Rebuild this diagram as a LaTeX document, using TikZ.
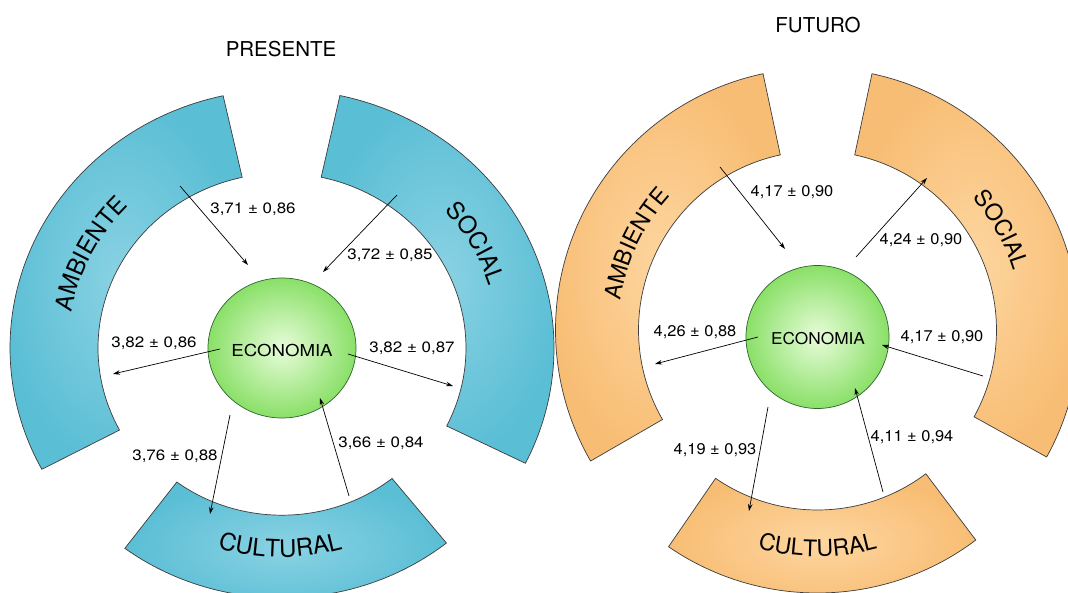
\documentclass[tikz,border=0pt]{standalone}
\usepackage{fontspec}
\setmainfont{TeX Gyre Heros}
\newfontfamily\HelvL[FakeStretch=1.13]{TeX Gyre Heros}
\newfontfamily\HelvR[FakeStretch=1.06]{TeX Gyre Heros}
\usetikzlibrary{arrows.meta,decorations.text,shapes.geometric,calc}
\definecolor{bluedark}{RGB}{90,190,213}
\definecolor{bluelight}{RGB}{138,210,227}
\definecolor{orgdark}{RGB}{248,189,116}
\definecolor{orglight}{RGB}{253,214,160}
\definecolor{grnout}{RGB}{138,224,104}
\definecolor{grnin}{RGB}{232,252,218}
\definecolor{edgegray}{RGB}{60,60,60}
\newcommand\bandL{\fontsize{24}{24}\selectfont}
\newcommand\bandR{\fontsize{23}{23}\selectfont}
\tikzset{
  band/.style={draw=edgegray, line width=0.7pt},
  blueband/.style={band, shading=radial, inner color=bluelight, outer color=bluedark},
  orgband/.style={band, shading=radial, inner color=orglight, outer color=orgdark},
  econ/.style={draw=edgegray!80!green, line width=0.7pt, shading=radial, inner color=grnin, outer color=grnout, inner sep=0},
  flow/.style={draw=black, line width=0.7pt, -{Stealth[length=7pt,width=4.5pt]}},
  valL/.style={font=\HelvL\fontsize{15}{18}\selectfont, inner sep=0},
  valR/.style={font=\HelvR\fontsize{15.5}{18}\selectfont, inner sep=0},
  title/.style={font=\fontsize{20.5}{24}\selectfont, inner sep=0},
  ringtext/.style={decorate, decoration={text along path, text align=center, text={#1}}},
}
\begin{document}
\begin{tikzpicture}[x=1pt,y=1pt]
\useasboundingbox (0,0) rectangle (1068,592);
\fill[white] (0,0) rectangle (1068,592);
\clip (0,0) rectangle (1068,592);

% ===================== PRESENTE =====================
\coordinate (L) at (282,244);
\path[blueband] ($(L)+(102.5:272 and 258.4)$) arc[start angle=102.5,end angle=208,x radius=272,y radius=258.4]
  -- ($(L)+(208:184 and 174.8)$) arc[start angle=208,end angle=102.5,x radius=184,y radius=174.8] -- cycle;
\path[blueband] ($(L)+(77.7:272 and 258.4)$) arc[start angle=77.7,end angle=-26.5,x radius=272,y radius=258.4]
  -- ($(L)+(-26.5:184 and 174.8)$) arc[start angle=-26.5,end angle=77.7,x radius=184,y radius=174.8] -- cycle;
\path[blueband] ($(L)+(-126.7:263 and 249.9)$) arc[start angle=-126.7,end angle=-51.3,x radius=263,y radius=249.9]
  -- ($(L)+(-51.3:176 and 167.2)$) arc[start angle=-51.3,end angle=-126.7,x radius=176,y radius=167.2] -- cycle;

\path[ringtext={|\bandL|AMBIENTE}] ($(L)+(198.3:214 and 203.3)$) arc[start angle=198.3,end angle=108.3,x radius=214,y radius=203.3];
\path[ringtext={|\bandL|SOCIAL}] ($(L)+(74:217.5 and 206.6)$) arc[start angle=74,end angle=-16,x radius=217.5,y radius=206.6];
\path[ringtext={|\bandL|CULTURAL}] ($(L)+(-130.5:220 and 209)$) arc[start angle=-130.5,end angle=-50.5,x radius=220,y radius=209];

\node[econ, ellipse, minimum width=148pt, minimum height=140pt] (ecoL) at (282,244) {};
\node[font=\HelvL\fontsize{16.5}{20}\selectfont, inner sep=0] (ecoLt) at (282,242) {ECONOMIA};
\node[title] (presente) at (281,543) {PRESENTE};

\coordinate (a1s) at (180,406); \coordinate (a1e) at (248,327);
\coordinate (a2s) at (397,397); \coordinate (a2e) at (323,320);
\coordinate (a3s) at (220,243); \coordinate (a3e) at (113,218);
\coordinate (a4s) at (348,238); \coordinate (a4e) at (453,206);
\coordinate (a5s) at (230,177); \coordinate (a5e) at (210,78);
\coordinate (a6s) at (349,96);  \coordinate (a6e) at (320,194);
\draw[flow] (a1s) -- (a1e);
\draw[flow] (a2s) -- (a2e);
\draw[flow] (a3s) -- (a3e);
\draw[flow] (a4s) -- (a4e);
\draw[flow] (a5s) -- (a5e);
\draw[flow] (a6s) -- (a6e);
\node[valL] (v1) at (253,383) {3,71 ± 0,86};
\node[valL] (v2) at (390,337) {3,72 ± 0,85};
\node[valL] (v3) at (154,249) {3,82 ± 0,86};
\node[valL] (v4) at (412,244) {3,82 ± 0,87};
\node[valL] (v5) at (175,136) {3,76 ± 0,88};
\node[valL] (v6) at (381,149) {3,66 ± 0,84};

% ===================== FUTURO =====================
\coordinate (R) at (817.5,262);
\path[orgband] ($(R)+(102:262 and 262)$) arc[start angle=102,end angle=210,radius=262]
  -- ($(R)+(210:179 and 179)$) arc[start angle=210,end angle=102,radius=179] -- cycle;
\path[orgband] ($(R)+(78:262 and 262)$) arc[start angle=78,end angle=-29,radius=262]
  -- ($(R)+(-29:179 and 179)$) arc[start angle=-29,end angle=78,radius=179] -- cycle;
\path[orgband] ($(R)+(-124.5:263 and 263)$) arc[start angle=-124.5,end angle=-53,radius=263]
  -- ($(R)+(-53:180 and 180)$) arc[start angle=-53,end angle=-124.5,radius=180] -- cycle;

\path[ringtext={|\bandR|AMBIENTE}] ($(R)+(199.6:199 and 199)$) arc[start angle=199.6,end angle=109.6,radius=199];
\path[ringtext={|\bandR|SOCIAL}] ($(R)+(73.7:204.3 and 204.3)$) arc[start angle=73.7,end angle=-16.3,radius=204.3];
\path[ringtext={|\bandR|CULTURAL}] ($(R)+(-130:226.5 and 226.5)$) arc[start angle=-130,end angle=-50,radius=226.5];

\node[econ, circle, minimum size=143pt] (ecoR) at (817.5,255) {};
\node[font=\HelvR\fontsize{16.3}{20}\selectfont, inner sep=0] (ecoRt) at (818,253) {ECONOMIA};
\node[title] (futuro) at (818,567) {FUTURO};

\coordinate (b1s) at (720,425); \coordinate (b1e) at (785,343);
\coordinate (b2s) at (856,335); \coordinate (b2e) at (927,414);
\coordinate (b3s) at (758,255); \coordinate (b3e) at (655,228);
\coordinate (b4s) at (983,216); \coordinate (b4e) at (882,247);
\coordinate (b5s) at (768,185); \coordinate (b5e) at (749,81);
\coordinate (b6s) at (883,100); \coordinate (b6e) at (855,204);
\draw[flow] (b1s) -- (b1e);
\draw[flow] (b2s) -- (b2e);
\draw[flow] (b3s) -- (b3e);
\draw[flow] (b4s) -- (b4e);
\draw[flow] (b5s) -- (b5e);
\draw[flow] (b6s) -- (b6e);
\node[valR] (w1) at (792,400) {4,17 ± 0,90};
\node[valR] (w2) at (921,352) {4,24 ± 0,90};
\node[valR] (w3) at (695,260) {4,26 ± 0,88};
\node[valR] (w4) at (942,255) {4,17 ± 0,90};
\node[valR] (w5) at (715,142) {4,19 ± 0,93};
\node[valR] (w6) at (912,155) {4,11 ± 0,94};
\end{tikzpicture}
\end{document}
